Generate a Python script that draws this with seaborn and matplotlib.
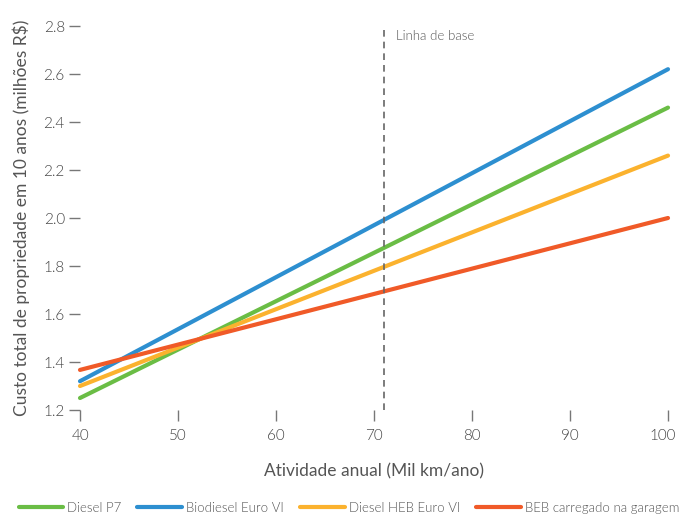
import pandas as pd
import seaborn as sns
import matplotlib.pyplot as plt
import matplotlib.transforms as mtransforms

# values (endpoints of straight lines)
activity = [40, 100]
diesel_p7 = [1.25, 2.46]
biodiesel_euro6 = [1.32, 2.62]
diesel_heb = [1.30, 2.26]
beb_garage = [1.367, 2.00]

series_names = ["Diesel P7", "Biodiesel Euro VI", "Diesel HEB Euro VI", "BEB carregado na garagem"]
colors = ["#6abd45", "#2d8fd0", "#fbb22e", "#f05a28"]
baseline_x = 71

rows = []
for name, vals in zip(series_names, [diesel_p7, biodiesel_euro6, diesel_heb, beb_garage]):
    for x, y in zip(activity, vals):
        rows.append({"x": x, "y": y, "serie": name})
df = pd.DataFrame(rows)

sns.set_style("white")
plt.rcParams["font.family"] = ["Lato", "DejaVu Sans"]
plt.rcParams["font.weight"] = 300
grey = "#555555"

fig = plt.figure(figsize=(6.79, 5.14), dpi=100)
ax = fig.add_axes([80 / 679, 1 - 410 / 514, 588 / 679, 384 / 514])

sns.lineplot(data=df, x="x", y="y", hue="serie", hue_order=series_names,
             palette=colors, linewidth=3, ax=ax, legend=True)

ax.axvline(baseline_x, color="#666666", linestyle=(0, (4, 3)), linewidth=1.2, ymin=0, ymax=0.99)
ax.text(baseline_x + 1.2, 2.74, "Linha de base", color=grey, fontsize=9.5)

ax.set_xlim(40, 100)
ax.set_ylim(1.2, 2.8)
ax.set_xticks(range(40, 101, 10))
ax.set_yticks([1.2, 1.4, 1.6, 1.8, 2.0, 2.2, 2.4, 2.6, 2.8])
ax.set_yticklabels([f"{v:.1f}" for v in ax.get_yticks()])
for line in ax.lines:
    line.set_clip_on(False)

for s in ax.spines.values():
    s.set_visible(False)
ax.tick_params(axis="both", bottom=True, left=True, colors="#777777", labelcolor="#444444",
               labelsize=11, length=8, width=1, direction="out")
ax.tick_params(axis="y", pad=3)
ax.tick_params(axis="x", pad=6)

# keep the last x label inside the canvas
last = ax.get_xticklabels()[-1]
last.set_transform(last.get_transform() + mtransforms.ScaledTranslation(-4 / 72, 0, fig.dpi_scale_trans))

ax.set_xlabel("Atividade anual (Mil km/ano)", color=grey, fontsize=12.5, labelpad=14)
ax.set_ylabel("Custo total de propriedade em 10 anos (milhões R$)", color=grey, fontsize=12.5, labelpad=10)

handles, labels = ax.get_legend_handles_labels()
ax.legend(handles, labels, loc="center", bbox_to_anchor=(0.457, -0.255), ncol=4, frameon=False,
          fontsize=9.5, labelcolor=grey, handlelength=3.4, handletextpad=0.3, columnspacing=1.2)

fig.savefig("out.png", dpi=100)
